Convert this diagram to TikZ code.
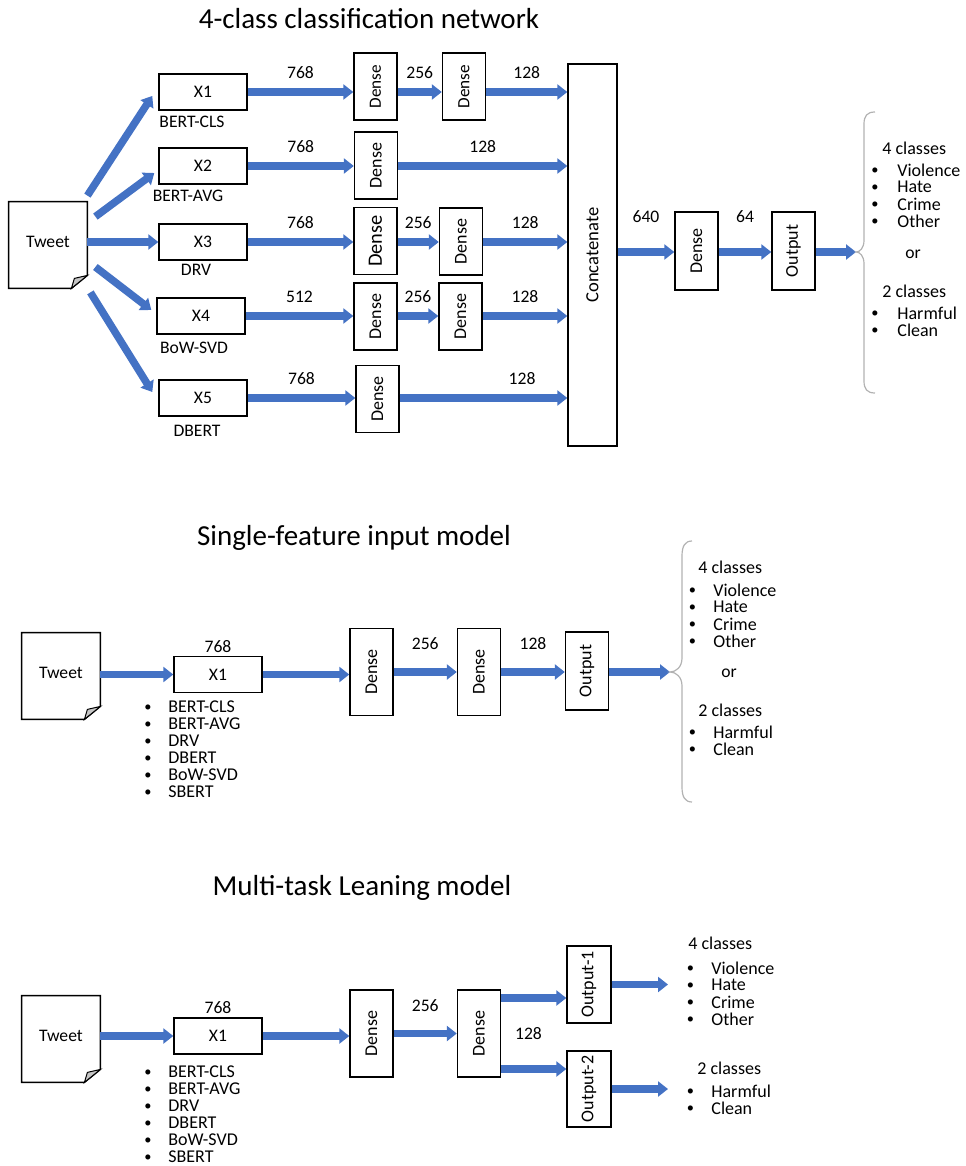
\documentclass[tikz,border=0pt]{standalone}
\usepackage{fontspec}
\setmainfont{Carlito}
\usetikzlibrary{arrows.meta,positioning}
\definecolor{flowblue}{HTML}{4472C4}
\newcommand{\txt}{\fontsize{8.8}{10}\selectfont}
\newcommand{\vsmall}{\fontsize{9}{10}\selectfont}
\newcommand{\ttl}{\fontsize{14.5}{16}\selectfont}

\begin{document}
\begin{tikzpicture}[x=0.5pt,y=-0.5pt]
    \tikzstyle{box}=[draw, line width=0.7pt, inner sep=0pt]
    \tikzstyle{xbox}=[box, font=\txt, minimum width=44pt, minimum height=18pt]
    \tikzstyle{dense}=[box, font=\vsmall, minimum width=21.5pt, minimum height=33.5pt]
    \tikzstyle{doc}=[font=\txt, minimum width=39pt, minimum height=43pt, inner sep=0pt]
    \tikzstyle{flow}=[draw=flowblue, line width=3.75pt, -{Triangle[width=7.5pt,length=5pt]}]
    \tikzstyle{lbl}=[font=\txt, inner sep=1pt]
    \tikzstyle{cls}=[font=\fontsize{9}{10}\selectfont, anchor=west, inner sep=0pt]
    \tikzstyle{brace}=[draw=gray!60, line width=0.6pt]
    \newcommand{\up}[1]{\rotatebox{90}{#1}}
    \newcommand{\bul}{\makebox[0pt][l]{\raisebox{0.6pt}{\scalebox{0.8}{\textbullet}}}}
    \newcommand{\docshape}[1]{%
        \draw[line width=0.7pt] (#1.north west) -- (#1.north east) -- ([yshift=6.5pt]#1.south east)
            -- ([xshift=-8pt]#1.south east) -- (#1.south west) -- cycle;
        \filldraw[fill=gray!45, line width=0.5pt] ([yshift=6.5pt]#1.south east) -- ([xshift=-8pt]#1.south east)
            -- ([shift={(-6.5pt,5pt)}]#1.south east) -- cycle;}
    \useasboundingbox (0,0) rectangle (965,1166);

    % 4-class classification network
    \node[font=\ttl] (t1) at (369,19) {4-class classification network};
    \node[doc] (tw) at (48,245) {\raisebox{3pt}{Tweet}};
    \docshape{tw}
    \node[xbox] (x1) at (203,92) {X1};
    \node[xbox] (x2) at (203,166) {X2};
    \node[xbox] (x3) at (203,242) {X3};
    \node[xbox] (x4) at (201,316) {X4};
    \node[xbox] (x5) at (203,398) {X5};
    \node[lbl] (f1) at (192,122) {BERT-CLS};
    \node[lbl] (f2) at (188,196) {BERT-AVG};
    \node[lbl] (f3) at (196,270) {DRV};
    \node[lbl] (f4) at (194,348) {BoW-SVD};
    \node[lbl] (f5) at (197,431) {DBERT};
    \node[dense, font=\fontsize{8.6}{9}\selectfont] (d11) at (375.5,86.5) {\up{Dense}};
    \node[dense, font=\fontsize{8.6}{9}\selectfont] (d12) at (464,86.5) {\up{Dense}};
    \node[dense] (d21) at (376,165.5) {\up{Dense}};
    \node[dense, font=\fontsize{10.2}{11}\selectfont] (d31) at (375.5,241) {\up{Dense}};
    \node[dense] (d32) at (461,241.5) {\up{Dense}};
    \node[dense] (d41) at (375.5,316.5) {\up{Dense}};
    \node[dense] (d42) at (460.5,316.5) {\up{Dense}};
    \node[dense] (d51) at (377.5,399) {\up{Dense}};
    \node[box, font=\fontsize{9.3}{10}\selectfont, minimum width=24.5pt, minimum height=191pt] (cat) at (592.5,255) {\up{Concatenate}};
    \node[dense, minimum height=39pt] (dn) at (696.5,251) {\up{Dense}};
    \node[dense, minimum height=39pt] (out) at (793.5,251) {\up{Output}};

    \draw[flow] ([shift={(0,-6)}]tw.north east) -- ([shift={(-6,4)}]x1.west);
    \draw[flow] ([shift={(8,15)}]tw.north east) -- ([shift={(-4,7)}]x2.west);
    \draw[flow] (tw.east |- x3) -- (x3);
    \draw[flow] ([shift={(8,22)}]tw.east) -- ([shift={(-5,-6)}]x4.west);
    \draw[flow] ([shift={(3,4)}]tw.south east) -- ([shift={(-6,-6)}]x5.west);

    \path (x1) edge[flow] node[lbl,above=3.75pt]{768} (x1 -| d11.west)
          (x1 -| d11.east) edge[flow] node[lbl,above=3.75pt]{256} (x1 -| d12.west)
          (x1 -| d12.east) edge[flow] node[lbl,above=3.75pt]{128} (x1 -| cat.west)
          (x2) edge[flow] node[lbl,above=3.75pt]{768} (x2 -| d21.west)
          (x2 -| d21.east) edge[flow] node[lbl,above=3.75pt]{128} (x2 -| cat.west)
          (x3) edge[flow] node[lbl,above=3.75pt]{768} (x3 -| d31.west)
          (x3 -| d31.east) edge[flow] node[lbl,above=3.75pt]{256} (x3 -| d32.west)
          (x3 -| d32.east) edge[flow] node[lbl,above=3.75pt]{128} (x3 -| cat.west)
          (x4) edge[flow] node[lbl,above=3.75pt]{512} (x4 -| d41.west)
          (x4 -| d41.east) edge[flow] node[lbl,above=3.75pt]{256} (x4 -| d42.west)
          (x4 -| d42.east) edge[flow] node[lbl,above=3.75pt]{128} (x4 -| cat.west)
          (x5) edge[flow] node[lbl,above=3.75pt]{768} (x5 -| d51.west)
          (x5 -| d51.east) edge[flow] node[lbl,above=3.75pt,pos=.73]{128} (x5 -| cat.west);

    \coordinate (b1) at (856,252);
    \path (b1 -| cat.east) edge[flow] node[lbl,above=11.75pt]{640} (b1 -| dn.west)
          (b1 -| dn.east) edge[flow] node[lbl,above=11.75pt]{64} (b1 -| out.west)
          (b1 -| out.east) edge[flow] (b1);
    \draw[brace] (875,112) .. controls (867,112) and (864,116) .. (864,124) -- (864,240)
        .. controls (864,248) and (860,252) .. (b1) .. controls (860,252) and (864,256) .. (864,264)
        -- (864,381) .. controls (864,389) and (867,393) .. (875,393);
    \node[cls] (c4) at (882,148) {4 classes};
    \foreach \w [count=\i] in {Violence,Hate,Crime,Other}
        \node[cls] (ca\i) at (871,153+17*\i) {\makebox[13pt][l]{\bul}\w};
    \node[lbl] (or1) at (913,254) {or};
    \node[cls] (c2) at (882,291) {2 classes};
    \foreach \w [count=\i] in {Harmful,Clean}
        \node[cls] (cb\i) at (871,296+17*\i) {\makebox[13pt][l]{\bul}\w};

    % single-feature input model
    \node[font=\ttl] (t2) at (354,538) {Single-feature input model};
    \node[doc] (tw2) at (61,676) {\raisebox{3pt}{Tweet}};
    \docshape{tw2}
    \node[xbox] (y1) at (218,674.5) {X1};
    \node[lbl, above=0.5pt of y1] (n768) {768};
    \foreach \w [count=\i] in {BERT-CLS,BERT-AVG,DRV,DBERT,BoW-SVD,SBERT}
        \node[cls] (fa\i) at (144,690+17*\i) {\makebox[12pt][l]{\bul}\w};
    \node[dense, minimum height=43.5pt] (md1) at (371.5,672) {\up{Dense}};
    \node[dense, minimum height=43.5pt] (md2) at (479,672) {\up{Dense}};
    \node[dense, minimum height=39pt] (mout) at (587,671) {\up{Output}};
    \coordinate (b2) at (670,672);
    \path (y1 -| tw2.east) edge[flow] (y1)
          (y1) edge[flow] (y1 -| md1.west)
          (md1) edge[flow] node[lbl,above=8.25pt]{256} (md2)
          (md2) edge[flow] node[lbl,above=8.25pt]{128} (md2 -| mout.west)
          (b2 -| mout.east) edge[flow] (b2);
    \draw[brace] (692,541) .. controls (685,541) and (682,546) .. (682,556) -- (682,658)
        .. controls (682,667) and (676,672) .. (b2) .. controls (676,672) and (682,677) .. (682,686)
        -- (682,787) .. controls (682,797) and (685,802) .. (692,802);
    \node[cls] (m4) at (698,567) {4 classes};
    \foreach \w [count=\i] in {Violence,Hate,Crime,Other}
        \node[cls] (ma\i) at (688.5,573+17*\i) {\makebox[12.25pt][l]{\bul}\w};
    \node[lbl] (or2) at (729,673) {or};
    \node[cls] (m2) at (698,710) {2 classes};
    \foreach \w [count=\i] in {Harmful,Clean}
        \node[cls] (mb\i) at (688.5,715+17*\i) {\makebox[12.25pt][l]{\bul}\w};

    % multi-task model
    \node[font=\ttl] (t3) at (362,888) {Multi-task Leaning model};
    \node[doc] (tw3) at (61,1039) {\raisebox{3pt}{Tweet}};
    \docshape{tw3}
    \node[xbox] (z1) at (218,1036) {X1};
    \node[lbl, above=0.5pt of z1] (k768) {768};
    \foreach \w [count=\i] in {BERT-CLS,BERT-AVG,DRV,DBERT,BoW-SVD,SBERT}
        \node[cls] (fb\i) at (144,1055+17*\i) {\makebox[12pt][l]{\bul}\w};
    \node[dense, minimum height=43.5pt] (bd1) at (371.5,1033.5) {\up{Dense}};
    \node[dense, minimum height=43.5pt] (bd2) at (479,1033.5) {\up{Dense}};
    \node[dense, minimum width=22pt, minimum height=38.5pt] (bo1) at (589,984.5) {\up{Output-1}};
    \node[dense, minimum width=22pt, minimum height=38pt] (bo2) at (589,1089) {\up{Output-2}};
    \node[lbl, right=5.75pt of bd2] (k128) {128};
    \coordinate (u1) at ([yshift=-6.75pt]bo1.west);
    \coordinate (u2) at ([yshift=10pt]bo2.west);
    \coordinate (e1) at (668,984.5);
    \coordinate (e2) at (668,1089);
    \path (z1 -| tw3.east) edge[flow] (z1)
          (z1) edge[flow] (z1 -| bd1.west)
          (bd1) edge[flow] node[lbl,above=8.25pt]{256} (bd2)
          (bd2.east |- u1) edge[flow] (u1)
          (bd2.east |- u2) edge[flow] (u2)
          (bo1) edge[flow] (e1)
          (bo2) edge[flow] (e2);
    \node[cls] (k4) at (688,943) {4 classes};
    \foreach \w [count=\i] in {Violence,Hate,Crime,Other}
        \node[cls] (ka\i) at (686.5,951+17*\i) {\makebox[12.25pt][l]{\bul}\w};
    \node[cls] (k2) at (697,1068) {2 classes};
    \foreach \w [count=\i] in {Harmful,Clean}
        \node[cls] (kb\i) at (686.5,1074+17*\i) {\makebox[12.25pt][l]{\bul}\w};
\end{tikzpicture}
\end{document}
